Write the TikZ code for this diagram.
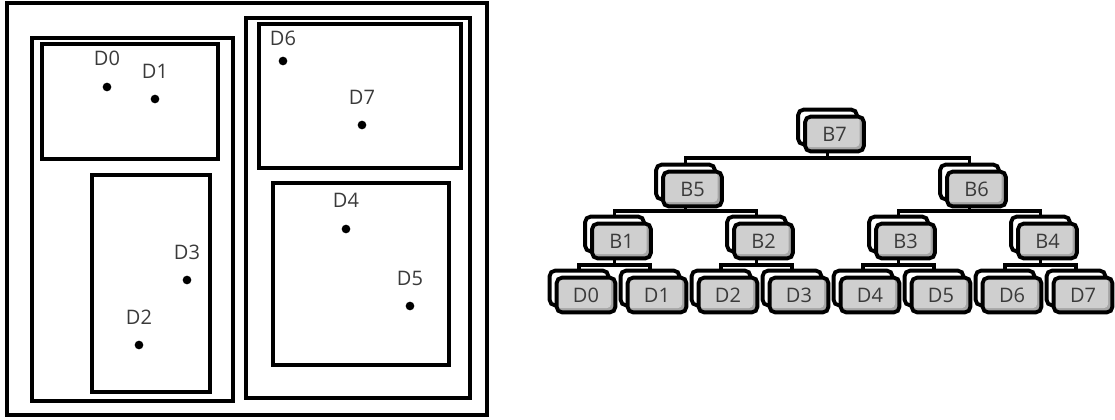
\documentclass[tikz,border=0pt]{standalone}
\usepackage{fontspec}
\setmainfont{Open Sans}
\usetikzlibrary{calc,backgrounds}
\definecolor{ink}{HTML}{3A3A3A}
\definecolor{keylight}{HTML}{CFCFCF}
\definecolor{keydark}{HTML}{A6A6A6}

\tikzset{
  region/.style={draw, line width=2.5pt},
  dot/.style={circle, fill=black, inner sep=0pt, minimum size=6.5pt},
  lbl/.style={text=ink, inner sep=0pt, font=\fontsize{15}{18}\selectfont},
  keyback/.style={draw, line width=2.9pt, rounded corners=4pt, fill=white,
    minimum width=44pt, minimum height=26pt, inner sep=0pt},
  keyfront/.style={keyback, fill=keydark, text=ink,
    font=\fontsize{15}{18}\selectfont,
    path picture={\fill[keylight, rounded corners=3pt]
      (path picture bounding box.north west) rectangle
      ([xshift=-3.2pt,yshift=3.2pt]path picture bounding box.south east);}},
  link/.style={line width=2.4pt}
}

% a tree entry: an empty back plate with a labelled key on top of it
\newcommand\keynode[3]{%
  \node[keyback] (#1) at (#2,#3) {};
  \node[keyfront] (#1f) at (#2+7,#3+7) {#1};}

\begin{document}
\begin{tikzpicture}[x=0.75pt,y=-0.75pt]
\useasboundingbox (0,0) rectangle (1115,420);

% ---------- spatial partition ----------
\draw[region] (7,3) rectangle (487,415);
\draw[region] (32,38) rectangle (233,401);
\draw[region] (42,44) rectangle (218,159);
\draw[region] (92,175) rectangle (210,392);
\draw[region] (246,18) rectangle (470,398);
\draw[region] (259,24) rectangle (461,168);
\draw[region] (273,183) rectangle (449,365);

\node[dot] (d0) at (107,87) {};
\node[dot] (d1) at (155,99) {};
\node[dot] (d2) at (139,345) {};
\node[dot] (d3) at (187,280) {};
\node[dot] (d4) at (346,229) {};
\node[dot] (d5) at (410,306) {};
\node[dot] (d6) at (283,61) {};
\node[dot] (d7) at (362,125) {};

\node[lbl] (l0) at ($(d0)+(0,-29)$) {D0};
\node[lbl] (l1) at ($(d1)+(0,-28)$) {D1};
\node[lbl] (l2) at ($(d2)+(0,-28)$) {D2};
\node[lbl] (l3) at ($(d3)+(0,-28)$) {D3};
\node[lbl] (l4) at ($(d4)+(0,-29)$) {D4};
\node[lbl] (l5) at ($(d5)+(0,-28)$) {D5};
\node[lbl] (l6) at ($(d6)+(0,-23)$) {D6};
\node[lbl] (l7) at ($(d7)+(0,-28)$) {D7};

% ---------- hierarchy ----------
\keynode{B7}{827.5}{127}
\keynode{B5}{685.5}{182}
\keynode{B6}{969.5}{182}
\keynode{B1}{614.5}{234}
\keynode{B2}{756.5}{234}
\keynode{B3}{898.5}{234}
\keynode{B4}{1040.5}{234}
\keynode{D0}{579}{288}
\keynode{D1}{650}{288}
\keynode{D2}{721}{288}
\keynode{D3}{792}{288}
\keynode{D4}{863}{288}
\keynode{D5}{934}{288}
\keynode{D6}{1005}{288}
\keynode{D7}{1076}{288}

\begin{scope}[on background layer]
  \coordinate (k7) at ($(B7)+(0,31)$);
  \coordinate (k5) at ($(B5)+(0,29)$);
  \coordinate (k6) at ($(B6)+(0,29)$);
  \coordinate (k1) at ($(B1)+(0,31)$);
  \coordinate (k2) at ($(B2)+(0,31)$);
  \coordinate (k3) at ($(B3)+(0,31)$);
  \coordinate (k4) at ($(B4)+(0,31)$);
  \draw[link] (B7.center) -- (k7) -| (B5.center);
  \draw[link] (k7) -| (B6.center);
  \draw[link] (B5.center) -- (k5) -| (B1.center);
  \draw[link] (k5) -| (B2.center);
  \draw[link] (B6.center) -- (k6) -| (B3.center);
  \draw[link] (k6) -| (B4.center);
  \draw[link] (B1.center) -- (k1) -| (D0.center);
  \draw[link] (k1) -| (D1.center);
  \draw[link] (B2.center) -- (k2) -| (D2.center);
  \draw[link] (k2) -| (D3.center);
  \draw[link] (B3.center) -- (k3) -| (D4.center);
  \draw[link] (k3) -| (D5.center);
  \draw[link] (B4.center) -- (k4) -| (D6.center);
  \draw[link] (k4) -| (D7.center);
\end{scope}
\end{tikzpicture}
\end{document}
